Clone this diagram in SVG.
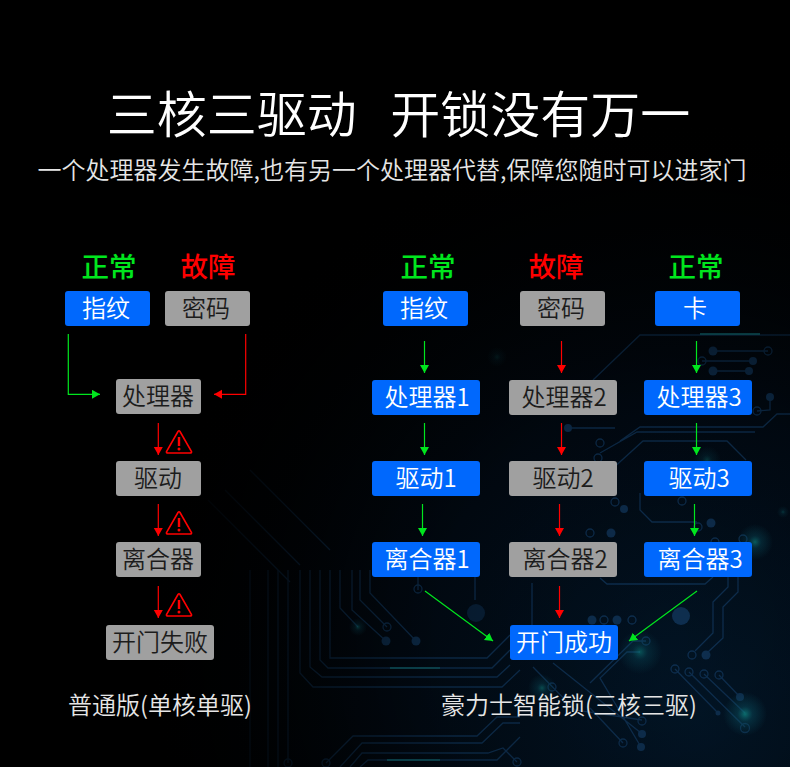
<svg xmlns="http://www.w3.org/2000/svg" width="790" height="767" viewBox="0 0 790 767">
<style>
text{font-family:"Noto Sans CJK SC","Noto Sans",sans-serif;text-anchor:middle}
.b{fill:#0068fd}.g{fill:#a0a0a0}
.bt{fill:#fff;font-size:24px;font-weight:350}.gt{fill:#1c1c1c;font-size:24px;font-weight:350}
.st{font-size:27.500px;font-weight:500}
.gl{stroke:#00e61e;stroke-width:1.200;fill:none}
.rl{stroke:#f00;stroke-width:1.200;fill:none}
.c{fill:none;stroke:#0e2f50;stroke-width:1.300}
.d{fill:#0e2f50}
.f{font-weight:350;fill:#e6e6e6}
</style>
<defs>
<marker id="ag" markerUnits="userSpaceOnUse" markerWidth="10" markerHeight="10" refX="8" refY="4.500" orient="auto"><path d="M0 0L8 4.500L0 9z" fill="#00e61e"/></marker>
<marker id="ar" markerUnits="userSpaceOnUse" markerWidth="10" markerHeight="10" refX="8" refY="4.500" orient="auto"><path d="M0 0L8 4.500L0 9z" fill="#f00"/></marker>
<radialGradient id="bg" gradientUnits="userSpaceOnUse" cx="700" cy="720" r="620"><stop offset="0" stop-color="#021526"/><stop offset=".5" stop-color="#010a14"/><stop offset="1" stop-color="#000"/></radialGradient>
<radialGradient id="fade" gradientUnits="userSpaceOnUse" cx="670" cy="640" r="520"><stop offset="0" stop-color="#000" stop-opacity="0"/><stop offset=".45" stop-color="#000" stop-opacity=".2"/><stop offset=".8" stop-color="#000" stop-opacity=".75"/><stop offset="1" stop-color="#000" stop-opacity="1"/></radialGradient>
<radialGradient id="gw"><stop offset="0" stop-color="#0f8f8a" stop-opacity=".8"/><stop offset=".35" stop-color="#0c5f70" stop-opacity=".4"/><stop offset="1" stop-color="#0c5f70" stop-opacity="0"/></radialGradient>
<g id="warn"><path d="M13 1.500L1.500 21.500Q1 23 3 23H25Q27 23 26.500 21.500L15 1.500Q14 0 13 1.500Z" fill="none" stroke="#f00" stroke-width="1.600"/><rect x="12.800" y="7" width="2.400" height="9" fill="#f00"/><circle cx="14" cy="19" r="1.500" fill="#f00"/></g>
</defs>
<rect width="790" height="767" fill="url(#bg)"/>
<g id="circuit">
<path class="c" d="M728 577V587L713 602V633L695 651M738 577V592L723 607V638L708 652M600 578L607 584H705L713 577"/>
<path class="c" d="M675 669L718 713M689 672L745 727M704 674L745 713M719 675L740 697"/>
<path class="c" d="M640 652H627L600 678L641 747M646 641H633L590 683M590 708L623 743M553 663L641 733M533 667L575 710L642 720"/>
<path class="c" d="M330 570V658H487L510 635M320 570V660L328 668H492L510 650M310 570V667L322 677H497L510 665M300 570V673L313 687H502L520 670"/>
<path class="c" d="M288 570V763M278 570V767M268 570V767M250 570V767"/>
<path class="c" d="M340 570V608L358 627M360 570V600L387 627M370 570V593L416 641M352 570V610L386 641M532 583V640L510 658M475 577V600M418 577V590"/>
<path class="c" d="M326 763L353 736H477L497 717H520M340 767L362 743H482L503 723H520M350 767L362 753H488L503 748L517 762M360 767L368 760H497L520 737"/>
<path class="c" d="M593 380L640 335H790M713 351H768M702 361H753M713 371H749M770 397V410L757 411M790 414H777L763 427H640L620 441M600 453L637 432H755M600 480L643 441H727L746 460M640 493V510L652 522H697M568 428H615"/>
<path class="c" d="M208 500L290 582M225 490L300 565M250 470L330 550"/>
<g class="c"><circle cx="692" cy="655" r="4"/><circle cx="675" cy="669" r="4"/><circle cx="689" cy="672" r="4"/><circle cx="704" cy="674" r="4"/><circle cx="719" cy="675" r="4"/><circle cx="745" cy="728" r="4.500"/><circle cx="646" cy="641" r="4"/><circle cx="642" cy="721" r="4"/><circle cx="623" cy="743" r="4"/><circle cx="632" cy="620" r="4"/><circle cx="604" cy="620" r="4"/><circle cx="418" cy="589" r="4"/><circle cx="387" cy="627" r="4"/><circle cx="326" cy="763" r="4"/><circle cx="288" cy="763" r="4"/><circle cx="517" cy="762" r="4"/><circle cx="552" cy="687" r="4"/><circle cx="590" cy="533" r="4"/><circle cx="768" cy="351" r="4"/><circle cx="702" cy="361" r="4"/><circle cx="757" cy="411" r="4"/><circle cx="615" cy="502" r="4"/><circle cx="682" cy="501" r="4"/><circle cx="698" cy="527" r="4"/><circle cx="715" cy="542" r="4"/><circle cx="743" cy="539" r="4"/><circle cx="600" cy="443" r="4"/><circle cx="598" cy="458" r="4"/></g>
<g class="d"><circle cx="706" cy="655" r="4.500"/><circle cx="681" cy="616" r="9"/><circle cx="476" cy="613" r="9" opacity=".6"/><circle cx="718" cy="713" r="2.500"/><circle cx="740" cy="697" r="4"/><circle cx="641" cy="747" r="4"/><circle cx="642" cy="734" r="4"/><circle cx="617" cy="620" r="4.500"/><circle cx="592" cy="620" r="4.500"/><circle cx="386" cy="641" r="4.500"/><circle cx="416" cy="641" r="4.500"/><circle cx="611" cy="533" r="4.500"/><circle cx="713" cy="351" r="4.500"/><circle cx="753" cy="361" r="4"/><circle cx="713" cy="371" r="4.500"/><circle cx="749" cy="371" r="4"/><circle cx="770" cy="397" r="4"/><circle cx="624" cy="509" r="4"/><circle cx="711" cy="523" r="4.500"/><circle cx="568" cy="428" r="4"/></g>
</g>
<rect id="fadeout" width="790" height="767" fill="url(#fade)"/>
<g id="glows">
<circle cx="640" cy="652" r="22" fill="url(#gw)" opacity=".65"/><circle cx="745" cy="714" r="22" fill="url(#gw)" opacity=".9"/><circle cx="542" cy="688" r="14" fill="url(#gw)" opacity=".6"/><circle cx="755" cy="542" r="18" fill="url(#gw)" opacity=".75"/><circle cx="707" cy="460" r="14" fill="url(#gw)" opacity=".4"/><circle cx="497" cy="357" r="10" fill="url(#gw)" opacity=".18"/><circle cx="358" cy="627" r="9" fill="url(#gw)" opacity=".4"/><circle cx="783" cy="512" r="6" fill="url(#gw)" opacity=".4"/>
<path d="M390 668H440M387 760H440M700 334H760" stroke="#0c4a50" stroke-width="1.300" fill="none"/>
</g>
<g id="titles">
<text x="398.500" y="132.500" fill="#fff" font-size="50" font-weight="350" word-spacing="5.500" xml:space="preserve">三核三驱动  开锁没有万一</text>
<text class="f" x="392" y="179" font-size="24">一个处理器发生故障,也有另一个处理器代替,保障您随时可以进家门</text>
<text class="f" x="160" y="714" font-size="24">普通版(单核单驱)</text>
<text class="f" x="569" y="714" font-size="24">豪力士智能锁(三核三驱)</text>
</g>
<g id="status">
<text class="st" x="109" y="277" fill="#00e61e">正常</text><text class="st" x="208" y="277" fill="#f00">故障</text>
<text class="st" x="428" y="277" fill="#00e61e">正常</text><text class="st" x="556" y="277" fill="#f00">故障</text><text class="st" x="696" y="277" fill="#00e61e">正常</text>
</g>
<g id="connectors">
<path class="gl" d="M68.300 334V394.300H100" marker-end="url(#ag)"/>
<path class="rl" d="M245.700 334V394.300H214" marker-end="url(#ar)"/>
<path class="rl" d="M158.300 423V455" marker-end="url(#ar)"/><path class="rl" d="M158.300 504V536" marker-end="url(#ar)"/><path class="rl" d="M158.300 586V618" marker-end="url(#ar)"/>
<path class="gl" d="M424.500 341V373" marker-end="url(#ag)"/><path class="gl" d="M424.500 423V455" marker-end="url(#ag)"/><path class="gl" d="M422.500 504V536" marker-end="url(#ag)"/>
<path class="rl" d="M561.500 341V373" marker-end="url(#ar)"/><path class="rl" d="M561.500 423V455" marker-end="url(#ar)"/><path class="rl" d="M559.500 504V536" marker-end="url(#ar)"/><path class="rl" d="M559.500 586V618" marker-end="url(#ar)"/>
<path class="gl" d="M696.500 341V373" marker-end="url(#ag)"/><path class="gl" d="M696.500 423V455" marker-end="url(#ag)"/><path class="gl" d="M694.500 504V536" marker-end="url(#ag)"/>
<path class="gl" d="M425 591L493 641" marker-end="url(#ag)"/><path class="gl" d="M697 591L629 641" marker-end="url(#ag)"/>
<use href="#warn" x="165" y="430"/><use href="#warn" x="165" y="511"/><use href="#warn" x="165" y="593"/>
</g>
<g id="n1"><rect class="b" x="65" y="291" width="85" height="35" rx="3"/><text class="bt" x="106" y="317">指纹</text></g>
<g id="n2"><rect class="g" x="165" y="291" width="85" height="35" rx="3"/><text class="gt" x="206" y="317">密码</text></g>
<g id="n3"><rect class="g" x="116" y="379" width="85" height="35" rx="3"/><text class="gt" x="158" y="405">处理器</text></g>
<g id="n4"><rect class="g" x="116" y="461" width="85" height="35" rx="3"/><text class="gt" x="158" y="487">驱动</text></g>
<g id="n5"><rect class="g" x="116" y="542" width="85" height="35" rx="3"/><text class="gt" x="158" y="568">离合器</text></g>
<g id="n6"><rect class="g" x="106" y="625" width="108" height="35" rx="3"/><text class="gt" x="160" y="651">开门失败</text></g>
<g id="n7"><rect class="b" x="383" y="291" width="85" height="35" rx="3"/><text class="bt" x="424" y="317">指纹</text></g>
<g id="n8"><rect class="g" x="520" y="291" width="85" height="35" rx="3"/><text class="gt" x="561" y="317">密码</text></g>
<g id="n9"><rect class="b" x="655" y="291" width="85" height="35" rx="3"/><text class="bt" x="695" y="317">卡</text></g>
<g id="n10"><rect class="b" x="372" y="380" width="108" height="35" rx="3"/><text class="bt" x="427" y="406">处理器1</text></g>
<g id="n11"><rect class="g" x="509" y="380" width="108" height="35" rx="3"/><text class="gt" x="564" y="406">处理器2</text></g>
<g id="n12"><rect class="b" x="644" y="380" width="108" height="35" rx="3"/><text class="bt" x="699" y="406">处理器3</text></g>
<g id="n13"><rect class="b" x="372" y="461" width="108" height="35" rx="3"/><text class="bt" x="426" y="487">驱动1</text></g>
<g id="n14"><rect class="g" x="509" y="461" width="108" height="35" rx="3"/><text class="gt" x="563" y="487">驱动2</text></g>
<g id="n15"><rect class="b" x="644" y="461" width="108" height="35" rx="3"/><text class="bt" x="699" y="487">驱动3</text></g>
<g id="n16"><rect class="b" x="372" y="542" width="108" height="35" rx="3"/><text class="bt" x="427" y="568">离合器1</text></g>
<g id="n17"><rect class="g" x="509" y="542" width="108" height="35" rx="3"/><text class="gt" x="565" y="568">离合器2</text></g>
<g id="n18"><rect class="b" x="644" y="542" width="108" height="35" rx="3"/><text class="bt" x="700" y="568">离合器3</text></g>
<g id="n19"><rect class="b" x="510" y="625" width="108" height="35" rx="3"/><text class="bt" x="564" y="651">开门成功</text></g>
</svg>
